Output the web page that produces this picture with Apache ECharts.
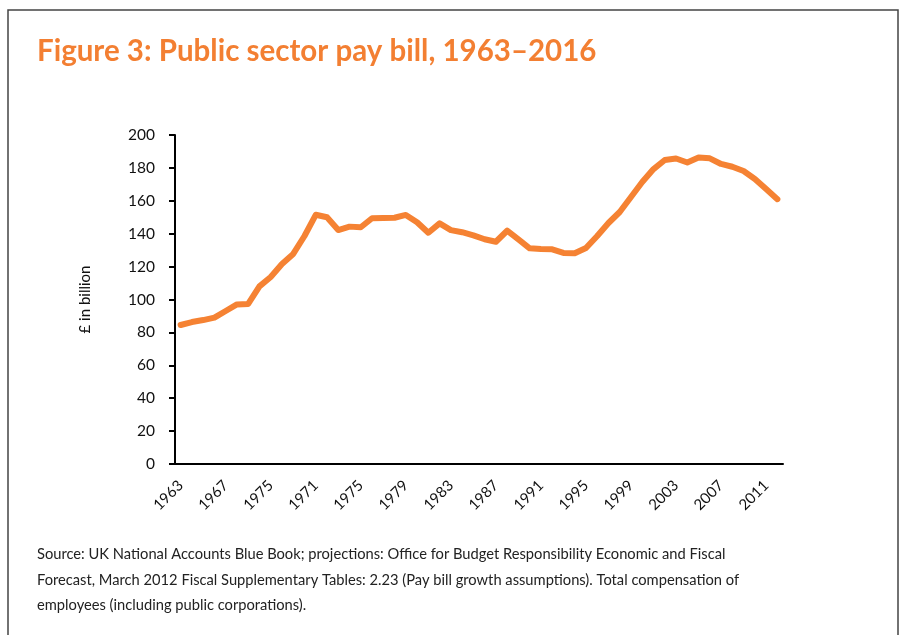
<!DOCTYPE html>
<html>
<head>
<meta charset="utf-8">
<script src="https://cdn.jsdelivr.net/npm/echarts@6/dist/echarts.min.js"></script>
<style>
	html, body { margin: 0; padding: 0; background: #fff; }
	#chart { width: 902px; height: 635px; }
</style>
</head>
<body>
<div id="chart"></div>
<script>
// years 1963-2016
var years = ['1963','1964','1965','1966','1967','1968','1969','1970','1971','1972',
	'1973','1974','1975','1976','1977','1978','1979','1980','1981','1982',
	'1983','1984','1985','1986','1987','1988','1989','1990','1991','1992',
	'1993','1994','1995','1996','1997','1998','1999','2000','2001','2002',
	'2003','2004','2005','2006','2007','2008','2009','2010','2011','2012',
	'2013','2014','2015','2016'];
// labels as printed on the original axis (every 4th category)
var tickLabels = ['1963','1967','1975','1971','1975','1979','1983','1987','1991','1995','1999','2003','2007','2011'];
// £ billion
var payBill = [84.5, 86.3, 87.5, 89, 93, 97, 97.3, 108, 113.7, 121.6,
	127.7, 138.6, 151.5, 150, 142.2, 144.3, 143.9, 149.4, 149.5, 149.7,
	151.4, 147, 140.6, 146.3, 142.2, 140.9, 139, 136.6, 135.1, 141.8,
	136.5, 131.1, 130.7, 130.5, 128.3, 128.1, 131.3, 138.6, 146.5, 153.2,
	162.3, 171.4, 179.3, 184.8, 185.7, 183.3, 186.3, 185.8, 182.4, 180.7,
	178.1, 173.3, 167.2, 161];

var sourceText = 'Source: UK National Accounts Blue Book; projections: Office for Budget Responsibility Economic and Fiscal\n' +
	'Forecast, March 2012 Fiscal Supplementary Tables: 2.23 (Pay bill growth assumptions). Total compensation of\n' +
	'employees (including public corporations).';

var myChart = echarts.init(document.getElementById('chart'));
var option = {
	backgroundColor: '#fff',
	animation: false,
	title: {
		text: 'Figure 3: Public sector pay bill, 1963\u20132016',
		left: 32,
		top: 31,
		textStyle: {
			color: '#f37f32',
			fontFamily: 'Lato',
			fontWeight: 'bold',
			fontSize: 29.5
		}
	},
	grid: {
		left: 175,
		right: 119,
		top: 135,
		bottom: 171
	},
	xAxis: {
		type: 'category',
		data: years,
		boundaryGap: true,
		axisLine: { lineStyle: { color: '#000', width: 2 } },
		axisTick: { interval: 3, length: 6, lineStyle: { color: '#000', width: 2 } },
		axisLabel: {
			interval: 3,
			rotate: 45,
			margin: 19,
			color: '#111',
			fontFamily: 'Lato',
			fontSize: 15,
			formatter: function(v, idx) {
				return tickLabels[idx / 4];
			}
		}
	},
	yAxis: {
		type: 'value',
		min: 0,
		max: 200,
		interval: 20,
		name: '\u00a3 in billion',
		nameLocation: 'middle',
		nameGap: 82,
		nameTextStyle: { color: '#111', fontFamily: 'Lato', fontSize: 15 },
		splitLine: { show: false },
		axisLine: { show: true, lineStyle: { color: '#000', width: 2 } },
		axisTick: { show: true, length: 6, lineStyle: { color: '#000', width: 2 } },
		axisLabel: { margin: 20, color: '#111', fontFamily: 'Lato', fontSize: 15.5 }
	},
	series: [{
		type: 'line',
		data: payBill,
		symbol: 'none',
		lineStyle: { color: '#f58233', width: 6, cap: 'round', join: 'round' }
	}],
	graphic: [{
		type: 'rect',
		shape: { x: 8, y: 10, width: 890, height: 640 },
		style: { fill: 'none', stroke: '#444', lineWidth: 1.5 }
	}, {
		type: 'text',
		left: 37,
		top: 542,
		style: {
			text: sourceText,
			fill: '#222',
			font: '14.7px Lato',
			lineHeight: 25.5
		}
	}]
};
myChart.setOption(option);
</script>
</body>
</html>
